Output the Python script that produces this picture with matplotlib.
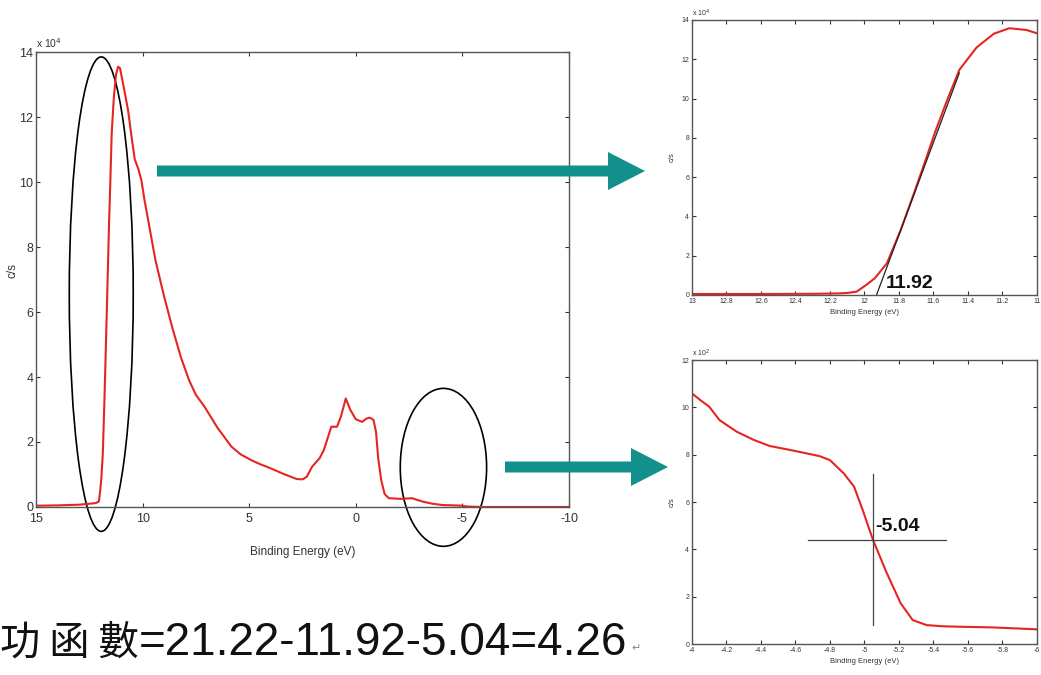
import matplotlib.pyplot as plt
from matplotlib.patches import Ellipse, FancyArrow
from matplotlib.ticker import FormatStrFormatter

plt.rcParams['font.family'] = ['Liberation Sans', 'DejaVu Sans']

# full UPS spectrum, binding energy (eV) vs counts (x 10^4 c/s)
spec_e = [15.0, 14.0, 13.0, 12.5, 12.2, 12.05, 11.99, 11.94, 11.87, 11.79, 11.68,
          11.58, 11.52, 11.45, 11.35, 11.25, 11.15, 11.06, 11.0, 10.85, 10.68,
          10.5, 10.37, 10.2, 10.06, 9.9, 9.74, 9.4, 9.0, 8.6, 8.2, 7.82, 7.5,
          7.1, 6.5, 5.84, 5.4, 4.93, 4.5, 4.03, 3.4, 2.77, 2.5, 2.3, 2.05, 1.7,
          1.5, 1.15, 0.88, 0.7, 0.47, 0.25, 0.0, -0.29, -0.5, -0.65, -0.83,
          -0.95, -1.05, -1.19, -1.35, -1.55, -2.1, -2.63, -3.17, -3.6, -4.07,
          -4.6, -5.0, -5.15, -5.4, -6.0, -10.0]
spec_c = [0.04, 0.05, 0.07, 0.1, 0.12, 0.17, 0.5, 0.85, 1.6, 3.3, 6.0,
          8.6, 9.9, 11.5, 12.6, 13.3, 13.55, 13.5, 13.3, 12.8, 12.2,
          11.3, 10.7, 10.4, 10.06, 9.4, 8.83, 7.6, 6.5, 5.5, 4.6, 3.9, 3.45,
          3.09, 2.45, 1.86, 1.62, 1.45, 1.32, 1.2, 1.02, 0.86, 0.85, 0.93, 1.24, 1.5,
          1.75, 2.47, 2.47, 2.78, 3.34, 2.98, 2.7, 2.62, 2.72, 2.75, 2.68,
          2.3, 1.5, 0.83, 0.4, 0.27, 0.25, 0.27, 0.16, 0.1, 0.06,
          0.05, 0.04, 0.02, 0.01, 0.0, 0.0]

# secondary electron cutoff (x 10^4)
cut_e = [13.0, 12.6, 12.3, 12.15, 12.1, 12.045, 11.99, 11.94, 11.87, 11.79, 11.72,
         11.66, 11.59, 11.52, 11.45, 11.35, 11.25, 11.16, 11.06, 11.0]
cut_c = [0.05, 0.05, 0.06, 0.08, 0.1, 0.17, 0.51, 0.85, 1.61, 3.3, 5.0,
         6.5, 8.3, 9.93, 11.46, 12.6, 13.3, 13.58, 13.49, 13.32]
tangent_e = [11.93, 11.45]
tangent_c = [0.0, 11.3]

# Fermi edge region (x 10^2)
edge_e = [-4.0, -4.05, -4.1, -4.16, -4.26, -4.36, -4.45, -4.59, -4.74, -4.8, -4.88,
          -4.94, -4.99, -5.05, -5.13, -5.21, -5.28, -5.36, -5.45, -5.55, -5.75, -6.0]
edge_c = [10.59, 10.3, 10.03, 9.46, 8.97, 8.62, 8.37, 8.17, 7.94, 7.77, 7.21,
          6.65, 5.66, 4.39, 2.99, 1.72, 1.01, 0.8, 0.75, 0.73, 0.7, 0.62]

red = '#e52620'
spine = '#555555'

fig = plt.figure(figsize=(10.41, 6.75), dpi=100)


def matlab_axes(rect, xlim, ylim, xticks, yticks, fs, exp_text, exp_fs):
    ax = fig.add_axes(rect)
    ax.set_xlim(*xlim)
    ax.set_ylim(*ylim)
    ax.set_xticks(xticks)
    ax.set_yticks(yticks)
    ax.xaxis.set_major_formatter(FormatStrFormatter('%g'))
    ax.yaxis.set_major_formatter(FormatStrFormatter('%g'))
    ax.tick_params(direction='in', top=True, right=True, length=3, width=0.8,
                   labelsize=fs, colors='#333333', pad=2)
    for s in ax.spines.values():
        s.set_color(spine)
        s.set_linewidth(1.0)
    ax.text(0.0, 1.005, exp_text, transform=ax.transAxes, fontsize=exp_fs,
            ha='left', va='bottom', color='#333333')
    return ax


# main spectrum
ax = matlab_axes([0.0346, 0.2489, 0.512, 0.674], (15, -10), (0, 14),
                 [15, 10, 5, 0, -5, -10], range(0, 15, 2), 9, r'x 10$^4$', 7.5)
ax.tick_params(axis='x', pad=4)
ax.plot(spec_e, spec_c, color=red, lw=1.5)
ax.set_xlabel('Binding Energy (eV)', fontsize=8.5, color='#333333')
ax.xaxis.set_label_coords(0.5, -0.085)
ax.set_ylabel('c/s', fontsize=8.5, color='#333333')
ax.yaxis.set_label_coords(-0.032, 0.52)
ax.add_patch(Ellipse((11.94, 6.55), 3.0, 14.6, fill=False, ec='black', lw=1.2, clip_on=False))
ax.add_patch(Ellipse((-4.11, 1.22), 4.05, 4.86, fill=False, ec='black', lw=1.2, clip_on=False))

# cutoff inset
ax1 = matlab_axes([0.6647, 0.563, 0.3314, 0.4074], (13, 11), (0, 14),
                  [13 - 0.2 * i for i in range(11)], range(0, 15, 2), 5, r'x 10$^4$', 5)
ax1.plot(cut_e, cut_c, color=red, lw=1.5)
ax1.plot(tangent_e, tangent_c, color='#222222', lw=0.9)
ax1.text(11.875, 0.15, '11.92', fontsize=14, fontweight='bold', color='#111111',
         ha='left', va='bottom')
ax1.set_xlabel('Binding Energy (eV)', fontsize=5.5, color='#333333', labelpad=3)
ax1.set_ylabel('c/s', fontsize=5.5, color='#333333', labelpad=4)

# Fermi edge inset
ax2 = matlab_axes([0.6647, 0.0459, 0.3314, 0.4207], (-4, -6), (0, 12),
                  [-4 - 0.2 * i for i in range(11)], range(0, 13, 2), 5, r'x 10$^2$', 5)
ax2.plot(edge_e, edge_c, color=red, lw=1.5)
ax2.plot([-5.05, -5.05], [0.8, 7.2], color='#444444', lw=0.9)
ax2.plot([-4.67, -5.47], [4.4, 4.4], color='#444444', lw=0.9)
ax2.text(-5.06, 4.6, '-5.04', fontsize=14, fontweight='bold', color='#111111',
         ha='left', va='bottom')
ax2.set_xlabel('Binding Energy (eV)', fontsize=5.5, color='#333333', labelpad=3)
ax2.set_ylabel('c/s', fontsize=5.5, color='#333333', labelpad=4)

# arrows
teal = '#12918c'
for x0, x1, y in [(1.57, 6.45, 5.04), (5.05, 6.68, 2.08)]:
    fig.add_artist(FancyArrow(x0, y, x1 - x0, 0, width=0.11, head_width=0.38,
                              head_length=0.37, length_includes_head=True,
                              transform=fig.dpi_scale_trans, color=teal, lw=0))

# work function formula
fig.text(0.0, 0.03, '功 函 數', fontsize=29, family=['Noto Sans CJK TC'],
         color='#111111', ha='left', va='baseline')
fig.text(0.1335, 0.03, '=21.22-11.92-5.04=4.26', fontsize=33,
         family=['Liberation Sans'], color='#111111', ha='left', va='baseline')
fig.text(0.607, 0.035, '↵', fontsize=8, family=['DejaVu Sans'], color='#888888',
         ha='left', va='baseline')

fig.savefig('out.png', dpi=100)
